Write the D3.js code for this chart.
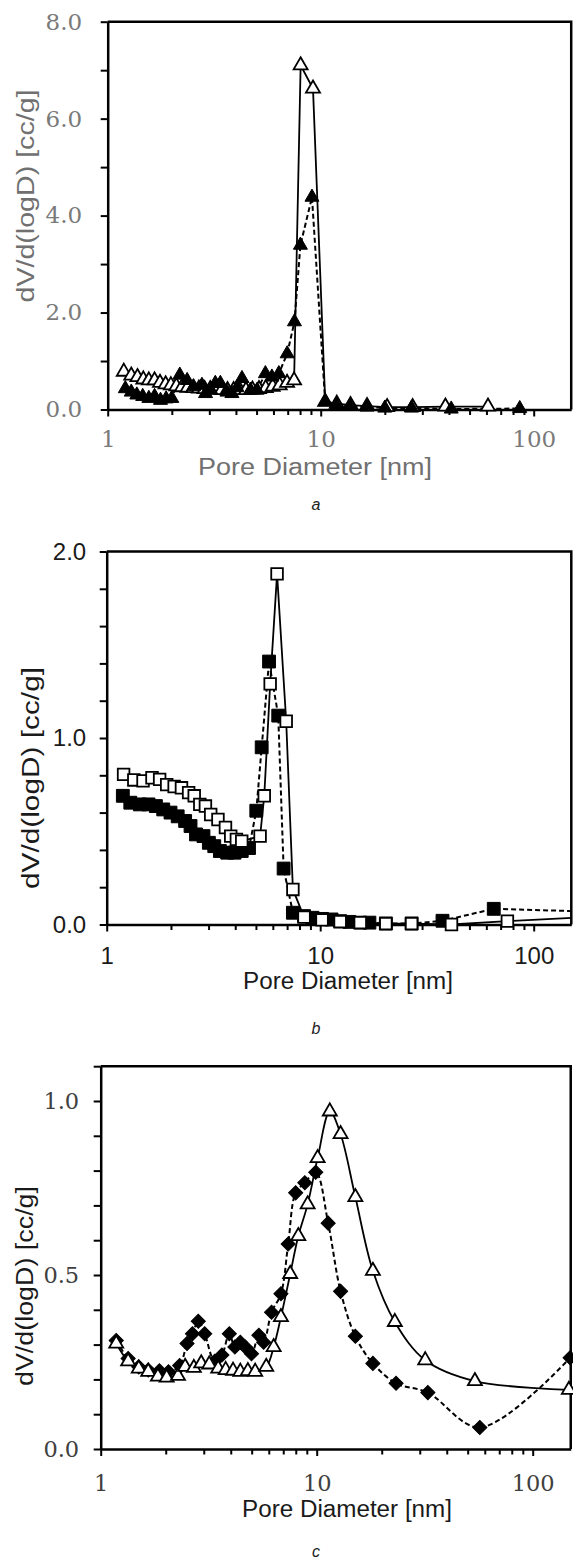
<!DOCTYPE html>
<html>
<head>
<meta charset="utf-8">
<script src="https://cdn.jsdelivr.net/npm/d3@7"></script>
<style>
body { margin: 0; background: #fff; }
</style>
</head>
<body>
<svg id="chart" width="573" height="1562"></svg>
<script>
// ---- panel a : triangles ----
const aOpenX = [1.19,1.29,1.38,1.47,1.56,1.66,1.76,1.87,1.98,2.10,2.23,2.37,2.52,2.68,2.85,3.03,3.22,3.43,3.65,3.90,4.17,4.46,4.78,5.13,5.52,5.95,6.42,6.95,7.50,8.05,9.20,10.5,11.9,13.8,16.5,20.5,27.0,38.5,61.0];
const aOpenY = [0.78,0.70,0.67,0.62,0.60,0.60,0.55,0.52,0.50,0.48,0.46,0.45,0.44,0.43,0.42,0.42,0.41,0.40,0.40,0.40,0.40,0.40,0.41,0.42,0.44,0.47,0.50,0.55,0.60,7.10,6.62,0.16,0.12,0.09,0.07,0.05,0.05,0.06,0.06];
const aFillX = [1.21,1.29,1.37,1.46,1.56,1.66,1.77,1.88,2.00,2.18,2.36,2.53,2.77,2.88,3.05,3.20,3.38,3.63,3.83,4.05,4.27,4.68,5.03,5.50,5.90,6.36,6.96,7.53,8.03,9.10,10.5,11.9,13.8,16.5,20.0,26.7,41.0,86.0];
const aFillY = [0.43,0.36,0.30,0.27,0.23,0.27,0.19,0.22,0.23,0.71,0.60,0.47,0.50,0.33,0.40,0.54,0.54,0.36,0.33,0.45,0.64,0.40,0.40,0.74,0.67,0.74,1.15,1.81,3.39,4.38,0.16,0.09,0.07,0.05,0.03,0.03,0.01,0.02];

// ---- panel b : squares ----
const bOpenX = [1.20,1.34,1.48,1.63,1.77,1.91,2.07,2.24,2.42,2.57,2.73,2.90,3.07,3.32,3.60,3.81,4.05,4.29,5.23,5.47,5.83,6.28,6.93,7.45,8.4,10.2,12.4,15.4,20.3,26.8,41.2,75.3,200];
const bOpenY = [0.805,0.775,0.77,0.787,0.778,0.75,0.74,0.733,0.707,0.69,0.644,0.635,0.59,0.563,0.52,0.474,0.456,0.447,0.474,0.69,1.29,1.88,1.09,0.188,0.04,0.025,0.015,0.01,0.005,0.005,0.0,0.018,0.043];
const bFillX = [1.19,1.29,1.43,1.57,1.70,1.84,1.99,2.15,2.33,2.47,2.62,2.84,3.01,3.19,3.39,3.67,3.97,4.29,4.64,5.02,5.32,5.76,6.36,6.74,7.45,8.4,9.2,10.2,11.3,12.4,13.7,15.4,17.0,20.3,26.8,37.4,65.0,200];
const bFillY = [0.69,0.653,0.644,0.644,0.635,0.617,0.60,0.58,0.555,0.528,0.483,0.474,0.438,0.42,0.394,0.385,0.385,0.394,0.41,0.61,0.95,1.41,1.12,0.30,0.063,0.045,0.036,0.03,0.027,0.018,0.014,0.01,0.01,0.005,0.005,0.02,0.084,0.068];

// ---- panel c : triangles and diamonds ----
const cOpenX = [1.18,1.34,1.50,1.66,1.84,2.02,2.28,2.46,2.70,2.92,3.18,3.50,3.79,4.10,4.43,4.80,5.19,5.84,6.32,6.83,7.54,8.22,9.08,10.1,11.5,12.9,15.1,18.2,23.0,31.8,54.0,147];
const cOpenY = [0.303,0.252,0.231,0.222,0.208,0.205,0.21,0.236,0.233,0.246,0.243,0.231,0.227,0.225,0.222,0.224,0.222,0.236,0.293,0.379,0.503,0.612,0.703,0.836,0.97,0.905,0.724,0.512,0.365,0.255,0.195,0.17];
const cFillX = [1.18,1.34,1.50,1.66,1.87,2.06,2.32,2.51,2.66,2.83,3.03,3.37,3.64,3.94,4.18,4.43,4.67,4.99,5.40,5.68,6.18,6.83,7.38,7.99,8.81,9.9,11.3,12.9,15.1,18.2,23.3,32.7,56.9,149];
const cFillY = [0.312,0.26,0.236,0.227,0.225,0.222,0.24,0.303,0.331,0.367,0.331,0.252,0.27,0.331,0.293,0.307,0.293,0.274,0.327,0.307,0.393,0.446,0.589,0.736,0.765,0.795,0.649,0.453,0.324,0.246,0.189,0.162,0.062,0.262];

// ---- ticks ----
const xMajor = [1, 10, 100];
const xLabels = ["1", "10", "100"];
const xMinor = [2,3,4,5,6,7,8,9,20,30,40,50,60,70,80,90];
const aYTicks = [0,1,2,3,4,5,6,7,8];
const aYLabels = ["0.0","2.0","4.0","6.0","8.0"];
const bYTicks = [0,0.2,0.4,0.6,0.8,1.0,1.2,1.4,1.6,1.8,2.0];
const bYLabels = ["0.0","1.0","2.0"];
const cYTicks = [0,0.1,0.2,0.3,0.4,0.5,0.6,0.7,0.8,0.9,1.0,1.1];
const cYLabels = ["0.0","0.5","1.0"];

const svg = d3.select("#chart");
svg.append("rect").attr("width", 573).attr("height", 1562).attr("fill", "#fff");

function zip(xs, ys) { return xs.map((d, i) => ({ x: d, y: ys[i] })); }

let clipN = 0;
function drawPanel(p) {
  const x = d3.scaleLog().domain([1, 150]).range([p.left, p.left + p.decade * Math.log10(150)]);
  const y = d3.scaleLinear().domain(p.yDomain).range([p.bottom, p.top]);
  const g = svg.append("g");
  const xr = x.range()[1];

  // minor x ticks
  g.append("g").attr("transform", `translate(0,${p.bottom})`)
    .call(d3.axisBottom(x).tickValues(xMinor).tickFormat("").tickSize(5.5).tickSizeOuter(0))
    .call(a => a.select(".domain").remove())
    .call(a => a.selectAll("line").attr("stroke", "#000").attr("stroke-width", 2));

  // major x
  g.append("g").attr("transform", `translate(0,${p.bottom})`)
    .call(d3.axisBottom(x).tickValues(xMajor).tickFormat((d, i) => xLabels[i]).tickSize(7).tickSizeOuter(0).tickPadding(p.xPad))
    .call(a => a.select(".domain").attr("stroke", "#000").attr("stroke-width", 2.5))
    .call(a => a.selectAll("line").attr("stroke", "#000").attr("stroke-width", 2))
    .call(a => a.selectAll("text").attr("font-family", p.tickFont).attr("font-size", p.tickSize).attr("fill", p.tickColor));

  // y axis
  g.append("g").attr("transform", `translate(${p.left},0)`)
    .call(d3.axisLeft(y).tickValues(p.yTicks).tickSize(7).tickSizeOuter(0).tickPadding(p.yPad)
      .tickFormat(d => { const i = p.yLabelAt.indexOf(d); return i >= 0 ? p.yLabels[i] : ""; }))
    .call(a => a.select(".domain").attr("stroke", "#000").attr("stroke-width", 2.5))
    .call(a => a.selectAll("line").attr("stroke", "#000").attr("stroke-width", 2))
    .call(a => a.selectAll("text").attr("font-family", p.tickFont).attr("font-size", p.tickSize).attr("fill", p.tickColor));

  // top and right frame
  g.append("path")
    .attr("d", `M${p.left},${p.top}H${xr}V${p.bottom}`)
    .attr("fill", "none").attr("stroke", "#000").attr("stroke-width", 2.5);

  // clip for lines
  const cid = "clip" + (clipN++);
  svg.append("clipPath").attr("id", cid).append("rect")
    .attr("x", p.left).attr("y", p.top).attr("width", xr - p.left).attr("height", p.bottom - p.top);

  const line = d3.line().x(d => x(d.x)).y(d => y(d.y)).curve(p.curve);
  p.series.forEach(s => {
    g.append("path").datum(zip(s.xs, s.ys))
      .attr("clip-path", `url(#${cid})`)
      .attr("d", line)
      .attr("fill", "none").attr("stroke", "#000").attr("stroke-width", s.dashed ? 2 : 1.8)
      .attr("stroke-dasharray", s.dashed ? "5,3" : null);
  });
  p.series.forEach(s => {
    const sym = d3.symbol().type(s.symbol).size(s.size);
    g.append("g").selectAll("path")
      .data(zip(s.xs, s.ys).filter(d => d.x <= 150))
      .join("path")
      .attr("d", sym)
      .attr("transform", d => `translate(${x(d.x)},${y(d.y)})` + (s.rotate ? " rotate(45)" : ""))
      .attr("fill", s.filled ? "#000" : "#fff")
      .attr("stroke", "#000").attr("stroke-width", s.filled ? 1 : 1.8);
  });

  // axis titles
  g.append("text")
    .attr("x", p.xTitle[0]).attr("y", p.xTitle[1])
    .attr("text-anchor", "middle")
    .attr("font-family", "Liberation Sans, Arial, sans-serif").attr("font-size", 23)
    .attr("fill", p.titleColor)
    .attr("textLength", p.xTitle[2]).attr("lengthAdjust", "spacingAndGlyphs")
    .text("Pore Diameter [nm]");
  g.append("text")
    .attr("transform", `translate(${p.yTitle[0]},${p.yTitle[1]}) rotate(-90)`)
    .attr("text-anchor", "middle")
    .attr("font-family", "Liberation Sans, Arial, sans-serif").attr("font-size", 23)
    .attr("fill", p.titleColor)
    .attr("textLength", p.yTitle[2]).attr("lengthAdjust", "spacingAndGlyphs")
    .text(p.yTitleText);
  g.append("text")
    .attr("x", p.caption[0]).attr("y", p.caption[1])
    .attr("text-anchor", "middle")
    .attr("font-family", "Liberation Sans, Arial, sans-serif").attr("font-size", 16)
    .attr("font-style", "italic").attr("fill", "#222")
    .text(p.captionText);
}

drawPanel({
  left: 107.7, decade: 213, top: 21.7, bottom: 409.5, yDomain: [0, 8],
  yTicks: aYTicks, yLabelAt: [0, 2, 4, 6, 8], yLabels: aYLabels,
  tickFont: "DejaVu Serif, serif", tickSize: 23, tickColor: "#7a7a7a", titleColor: "#707070",
  xPad: 14, yPad: 18.5,
  curve: d3.curveLinear,
  series: [
    { xs: aOpenX, ys: aOpenY, symbol: d3.symbolTriangle, size: 85, filled: false, dashed: false },
    { xs: aFillX, ys: aFillY, symbol: d3.symbolTriangle, size: 85, filled: true, dashed: true }
  ],
  xTitle: [315, 475, 234], yTitle: [34, 196, 213], yTitleText: "dV/d(logD)  [cc/g]",
  caption: [316, 510], captionText: "a"
});

drawPanel({
  left: 106.7, decade: 213.5, top: 551.5, bottom: 924.5, yDomain: [0, 2],
  yTicks: bYTicks, yLabelAt: [0, 1, 2], yLabels: bYLabels,
  tickFont: "Liberation Sans, Arial, sans-serif", tickSize: 24, tickColor: "#1a1a1a", titleColor: "#1a1a1a",
  xPad: 15, yPad: 13.5,
  curve: d3.curveLinear,
  series: [
    { xs: bFillX, ys: bFillY, symbol: d3.symbolSquare, size: 165, filled: true, dashed: true },
    { xs: bOpenX, ys: bOpenY, symbol: d3.symbolSquare, size: 135, filled: false, dashed: false }
  ],
  xTitle: [348, 989, 210], yTitle: [39, 778, 222], yTitleText: "dV/d(logD) [cc/g]",
  caption: [316, 1034], captionText: "b"
});

drawPanel({
  left: 100.7, decade: 216, top: 1066.2, bottom: 1449, yDomain: [0, 1.1],
  yTicks: cYTicks, yLabelAt: [0, 0.5, 1.0], yLabels: cYLabels,
  tickFont: "DejaVu Serif, serif", tickSize: 22.5, tickColor: "#404040", titleColor: "#1a1a1a",
  xPad: 19, yPad: 14.5,
  curve: d3.curveCatmullRom.alpha(0.5),
  series: [
    { xs: cFillX, ys: cFillY, symbol: d3.symbolSquare, size: 100, filled: true, dashed: true, rotate: true },
    { xs: cOpenX, ys: cOpenY, symbol: d3.symbolTriangle, size: 85, filled: false, dashed: false }
  ],
  xTitle: [347, 1517, 210], yTitle: [33, 1286, 200], yTitleText: "dV/d(logD) [cc/g]",
  caption: [316, 1557], captionText: "c"
});
</script>
</body>
</html>
